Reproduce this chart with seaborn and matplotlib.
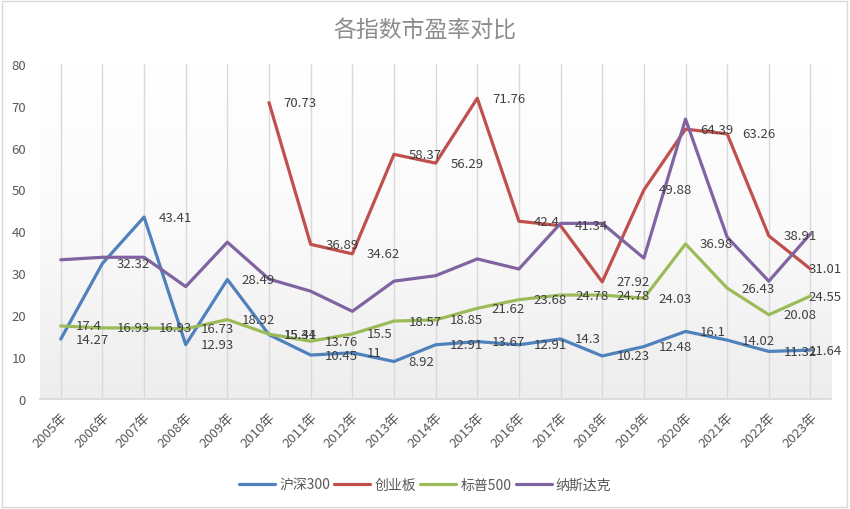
import numpy as np
import pandas as pd
import matplotlib
matplotlib.use('Agg')
import matplotlib.pyplot as plt
import seaborn as sns
from matplotlib.colors import LinearSegmentedColormap
from matplotlib.patches import Rectangle

sns.set_theme(style="white")
plt.rcParams['font.family'] = ['Noto Sans CJK SC', 'DejaVu Sans']

# 数据
years = [f"{y}年" for y in range(2005, 2024)]
hs300 = [14.27, 32.32, 43.41, 12.93, 28.49, 15.31, 10.45, 11, 8.92, 12.91,
         13.67, 12.91, 14.3, 10.23, 12.48, 16.1, 14.02, 11.32, 11.64]
cyb = [np.nan, np.nan, np.nan, np.nan, np.nan, 70.73, 36.89, 34.62, 58.37, 56.29,
       71.76, 42.4, 41.34, 27.92, 49.88, 64.39, 63.26, 38.91, 31.01]
sp500 = [17.4, 16.93, 16.93, 16.73, 18.92, 15.44, 13.76, 15.5, 18.57, 18.85,
         21.62, 23.68, 24.78, 24.78, 24.03, 36.98, 26.43, 20.08, 24.55]
nasdaq = [33.2, 33.8, 33.8, 26.8, 37.4, 28.6, 25.7, 20.9, 28.1, 29.4,
          33.4, 31.0, 41.9, 41.9, 33.6, 66.8, 38.6, 28.1, 39.4]

series = {'沪深300': hs300, '创业板': cyb, '标普500': sp500, '纳斯达克': nasdaq}
colors = {'沪深300': '#4F81BD', '创业板': '#C0504D', '标普500': '#9BBB59', '纳斯达克': '#8064A2'}
labelled = ['沪深300', '创业板', '标普500']

pos = np.arange(len(years))
df = pd.concat([pd.DataFrame({'x': pos, 'value': v, 'name': k}) for k, v in series.items()])
df = df.dropna()

fig = plt.figure(figsize=(8.5, 5.1), dpi=100)
ax = fig.add_axes([0.047, 0.216, 0.931, 0.657])

# plot area gradient (white at top, light grey at bottom)
cmap = LinearSegmentedColormap.from_list('bg', ['#ffffff', '#fafafa', '#ededed'])
ax.imshow(np.linspace(0, 1, 200).reshape(-1, 1), extent=(-0.5, 18.5, 0, 80),
          cmap=cmap, aspect='auto', zorder=0)

sns.lineplot(data=df, x='x', y='value', hue='name', palette=colors, linewidth=2.3,
             ax=ax, legend=True, sort=True, zorder=3)

last = len(years) - 1
for k in labelled:
    for i, v in enumerate(series[k]):
        if np.isnan(v):
            continue
        dx = -1.5 if i == last else 10.5
        ax.annotate(f"{v:g}", (i, v), xytext=(dx, 0), textcoords='offset points',
                    ha='left', va='center', fontsize=9.5, color='#404040', zorder=5)

ax.set_xlim(-0.5, 18.5)
ax.set_ylim(0, 80)
ax.set_yticks(range(0, 81, 10))
ax.set_xticks(pos)
ax.set_xticklabels(years, rotation=45, ha='right', rotation_mode='anchor')
ax.tick_params(axis='x', labelsize=9.5, colors='#595959', length=0, pad=8)
ax.tick_params(axis='y', labelsize=9.5, colors='#595959', length=0, pad=10)
ax.set_xlabel('')
ax.set_ylabel('')
ax.grid(axis='x', color='#d9d9d9', linewidth=1, zorder=1)
ax.set_axisbelow(True)
for s in ['top', 'right', 'left']:
    ax.spines[s].set_visible(False)
ax.spines['bottom'].set_color('#d9d9d9')

handles, labels = ax.get_legend_handles_labels()
ax.get_legend().remove()
fig.legend(handles, labels, loc='center', bbox_to_anchor=(0.5, 0.047), ncol=4,
           frameon=False, fontsize=10, handlelength=2.6, handletextpad=0.3,
           columnspacing=0.3, labelcolor='#595959')

fig.suptitle('各指数市盈率对比', x=0.5, y=0.962, fontsize=16.5, color='#8c8c8c',
             fontweight='light')

fig.patches.append(Rectangle((0.002, 0.003), 0.995, 0.993, transform=fig.transFigure,
                             fill=False, edgecolor='#d9d9d9', linewidth=1))

fig.savefig('out.png', dpi=100)
